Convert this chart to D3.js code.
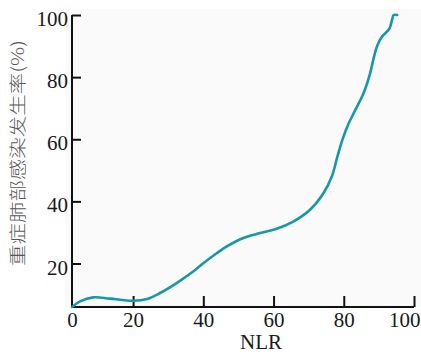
<!DOCTYPE html>
<html>
<head>
<meta charset="utf-8">
<script src="https://cdn.jsdelivr.net/npm/d3@7"></script>
<style>
    body { margin: 0; background: #fff; }
    svg { display: block; }
</style>
</head>
<body>
<div id="chart"></div>
<script>
// NLR vs incidence of severe pulmonary infection (%)
const nlr  = [2.6, 4.9, 8.6, 13.4, 20, 24, 27.7, 32.4, 37.1, 40, 43.8, 46.7, 51.4, 56.1, 60.9, 65.6, 70.4, 74.2, 76.6, 78.2, 79.6, 81.2, 83.2, 85.6, 87.5, 88.4, 89.5, 90.8, 93, 93.8, 94.2, 95.2];
const rate = [6, 7.8, 9.1, 8.7, 8.0, 8.6, 10.5, 13.7, 17.4, 20.1, 23.3, 25.5, 28.2, 29.8, 31.2, 33.5, 37.3, 42.6, 48, 54.5, 59.8, 64.6, 69.2, 74.7, 81.2, 85.6, 90.0, 92.9, 95.6, 98.7, 100, 100];

const xTicks = [2.6, 20, 40, 60, 80, 100];
const xTickLabels = ['0', '20', '40', '60', '80', '100'];
const yTicks = [20, 40, 60, 80, 100];
const xTitle = 'NLR';
const yTitle = '重症肺部感染发生率(%)';

const W = 421, H = 354;
const margin = { left: 72, right: 7, top: 15, bottom: 47 };
const plotW = W - margin.left - margin.right;
const plotH = H - margin.top - margin.bottom;

const svg = d3.select('#chart')
    .append('svg')
    .attr('width', W)
    .attr('height', H);

// faint plot background
svg.append('rect')
    .attr('x', margin.left - 6)
    .attr('y', 9)
    .attr('width', W - margin.left + 6)
    .attr('height', margin.top + plotH - 9)
    .attr('fill', '#fafafa');

const g = svg.append('g')
    .attr('transform', `translate(${margin.left},${margin.top})`);

const x = d3.scaleLinear().domain([2.6, 100]).range([0, plotW]);
const y = d3.scaleLinear().domain([6, 100]).range([plotH, 0]);

const font = '"Liberation Serif", "Times New Roman", serif';

// X axis
const xAxis = g.append('g')
    .attr('transform', `translate(0,${plotH})`)
    .call(d3.axisBottom(x)
        .tickValues(xTicks)
        .tickSize(-11)
        .tickPadding(5)
        .tickFormat((d, i) => xTickLabels[i]));
xAxis.select('.domain').attr('d', `M0,0H${plotW}`);
xAxis.selectAll('line').filter(d => d === xTicks[0]).remove();

// Y axis
const yAxis = g.append('g')
    .call(d3.axisLeft(y)
        .tickValues(yTicks)
        .tickSize(-9)
        .tickPadding(4));
yAxis.select('.domain').attr('d', `M0,${plotH}V0`);

[xAxis, yAxis].forEach(a => {
    a.selectAll('.domain, line')
        .attr('stroke', '#111')
        .attr('stroke-width', 2);
    a.selectAll('text')
        .attr('fill', '#1a1a1a')
        .style('font-family', font)
        .style('font-size', '21px');
});
xAxis.selectAll('text').attr('dy', '0.71em');
yAxis.selectAll('text').attr('dy', '0.5em');

// last x label sits against the right edge
xAxis.selectAll('.tick')
    .filter(d => d === 100)
    .select('text')
    .attr('text-anchor', 'end')
    .attr('x', 6);

// Curve
const pts = nlr.map((v, i) => ({ x: v, y: rate[i] }));
const line = d3.line()
    .x(d => x(d.x))
    .y(d => y(d.y))
    .curve(d3.curveCatmullRom.alpha(0.5));

g.append('path')
    .datum(pts)
    .attr('fill', 'none')
    .attr('stroke', '#1797a8')
    .attr('stroke-width', 2.6)
    .attr('stroke-linejoin', 'round')
    .attr('stroke-linecap', 'round')
    .attr('d', line);

// Axis titles
svg.append('text')
    .attr('x', 261)
    .attr('y', 349)
    .attr('text-anchor', 'middle')
    .attr('fill', '#1a1a1a')
    .style('font-family', font)
    .style('font-size', '21px')
    .text(xTitle);

// opacity < 1 keeps the stretched CJK title in grey antialiasing
svg.append('g')
    .attr('opacity', 0.99)
    .append('text')
    .attr('transform', 'translate(24,153) rotate(-90)')
    .attr('text-anchor', 'middle')
    .attr('fill', '#555')
    .attr('textLength', 226)
    .attr('lengthAdjust', 'spacingAndGlyphs')
    .style('font-family', '"Noto Sans CJK SC", sans-serif')
    .style('font-weight', 300)
    .style('font-size', '17px')
    .text(yTitle);
</script>
</body>
</html>
